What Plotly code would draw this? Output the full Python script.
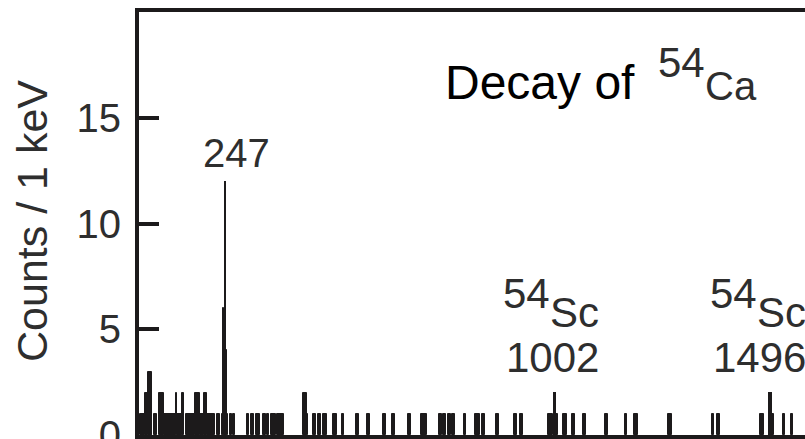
import plotly.graph_objects as go

# ---- spectrum data -------------------------------------------------------
# Runs of adjacent 1-keV bins that share the same count: [lo, hi) in keV
run_lo = [52, 64, 70, 79, 84, 96, 108, 134, 138, 148, 158, 178, 190,
          199, 205, 228, 240, 242, 244, 248, 250, 252, 259, 266, 297, 306, 318,
          333, 344, 353, 367, 426, 434, 448, 459, 472, 495, 515, 547, 572, 610,
          630, 667, 696, 737, 747, 759, 768, 795, 820, 836, 867, 909, 923, 988,
          1005, 1021, 1043, 1067, 1117, 1163, 1184, 1263, 1362, 1374, 1474,
          1499, 1525, 1543]
run_hi = [64, 70, 79, 80, 92, 108, 134, 138, 148, 154, 178, 190, 199,
          205, 224, 236, 242, 244, 246, 250, 252, 255, 262, 270, 302, 314, 327,
          340, 349, 363, 383, 434, 437, 455, 466, 481, 503, 519, 555, 579, 617,
          637, 673, 711, 744, 754, 766, 774, 800, 831, 843, 874, 915, 929, 998,
          1009, 1031, 1048, 1075, 1124, 1169, 1193, 1271, 1368, 1381, 1481,
          1504, 1531, 1548]
run_counts = [1, 2, 3, 1, 1, 2, 1, 2, 1, 2, 1, 2, 1,
              2, 1, 1, 1, 6, 1, 1, 4, 1, 1, 1, 1, 1, 1,
              1, 1, 1, 1, 2, 1, 1, 1, 1, 1, 1, 1, 1, 1,
              1, 1, 1, 1, 1, 1, 1, 1, 1, 1, 1, 1, 1, 1,
              1, 1, 1, 1, 1, 1, 1, 1, 1, 1, 1,
              1, 1, 1]

# Labelled gamma lines (keV), peak counts and number of bins at the peak height
line_energy = [247, 1002, 1496]
line_counts = [12, 2, 2]
line_bins = [1, 4, 4]
line_parent = ["", "54", "54"]
line_element = ["", "Sc", "Sc"]

y_ticks = [0, 5, 10, 15]
x_range = [50, 1576]
y_range = [0, 20]

# ---- style ---------------------------------------------------------------
INK = "#1c1a1b"
TEXT = "#2e2e2e"
FONT = "Liberation Sans, Arial, Helvetica, sans-serif"
W, H = 805, 439
M = dict(l=139, r=0, t=12, b=4)
PLOT_H = H - M["t"] - M["b"]


def paper_y(py):
    """Pixel row (from top of page) to paper y."""
    return (H - M["b"] - py) / PLOT_H


def paper_x(px):
    return (px - M["l"]) / (W - M["l"] - M["r"])


fig = go.Figure()

fig.add_trace(go.Bar(
    x=[(lo + hi) / 2 for lo, hi in zip(run_lo, run_hi)],
    y=run_counts,
    width=[hi - lo for lo, hi in zip(run_lo, run_hi)],
    marker=dict(color=INK, line=dict(color=INK, width=1)),
    hoverinfo="skip",
))

fig.add_trace(go.Bar(
    x=line_energy,
    y=line_counts,
    width=line_bins,
    marker=dict(color=INK, line=dict(color=INK, width=2)),
    hoverinfo="skip",
))

annotations = []

# main caption
annotations.append(dict(text="Decay of", x=paper_x(540), y=paper_y(82.5),
                        xref="paper", yref="paper", showarrow=False,
                        font=dict(family=FONT, size=48, color="#000000"),
                        xanchor="center", yanchor="middle"))
annotations.append(dict(text="54", x=paper_x(681.5), y=paper_y(63),
                        xref="paper", yref="paper", showarrow=False,
                        font=dict(family=FONT, size=42, color=TEXT),
                        xanchor="center", yanchor="middle"))
annotations.append(dict(text="Ca", x=paper_x(731), y=paper_y(86),
                        xref="paper", yref="paper", showarrow=False,
                        font=dict(family=FONT, size=40, color=TEXT),
                        xanchor="center", yanchor="middle"))

# y-axis title
annotations.append(dict(text="Counts / 1 keV", x=paper_x(31.5), y=paper_y(221.5),
                        xref="paper", yref="paper", showarrow=False, textangle=-90,
                        font=dict(family=FONT, size=43, color=TEXT),
                        xanchor="center", yanchor="middle"))

# gamma-line labels
label_shift = [11.5, -2, -11]
for e, parent, elem, dx in zip(line_energy, line_parent, line_element, label_shift):
    if elem:
        annotations.append(dict(text=f"{e}", x=e, y=paper_y(357.5), xref="x", yref="paper",
                                xshift=dx, showarrow=False,
                                font=dict(family=FONT, size=42, color=TEXT),
                                xanchor="center", yanchor="middle"))
        annotations.append(dict(text=parent, x=e, y=paper_y(293), xref="x", yref="paper",
                                xshift=dx - 26, showarrow=False,
                                font=dict(family=FONT, size=42, color=TEXT),
                                xanchor="center", yanchor="middle"))
        annotations.append(dict(text=elem, x=e, y=paper_y(312), xref="x", yref="paper",
                                xshift=dx + 22, showarrow=False,
                                font=dict(family=FONT, size=42, color=TEXT),
                                xanchor="center", yanchor="middle"))
    else:
        annotations.append(dict(text=f"{e}", x=e, y=paper_y(152.5), xref="x", yref="paper",
                                xshift=dx, showarrow=False,
                                font=dict(family=FONT, size=40, color=TEXT),
                                xanchor="center", yanchor="middle"))

fig.update_layout(
    width=W, height=H, margin=M,
    paper_bgcolor="white", plot_bgcolor="white",
    barmode="overlay", bargap=0, bargroupgap=0, showlegend=False,
    annotations=annotations,
    xaxis=dict(range=x_range, showline=True, linewidth=4, linecolor=INK,
               mirror=True, showgrid=False, zeroline=False, automargin=False,
               showticklabels=False, ticks=""),
    yaxis=dict(range=y_range, showline=True, linewidth=4, linecolor=INK,
               mirror=False, showgrid=False, zeroline=False, automargin=False,
               ticks="inside", ticklen=20, tickwidth=3.5, tickcolor=INK,
               tickvals=y_ticks, ticktext=[str(v) for v in y_ticks],
               tickfont=dict(family=FONT, size=40, color=TEXT),
               ticklabelstandoff=6, ticklabeloverflow="allow"),
)

fig.write_html("out.html")
